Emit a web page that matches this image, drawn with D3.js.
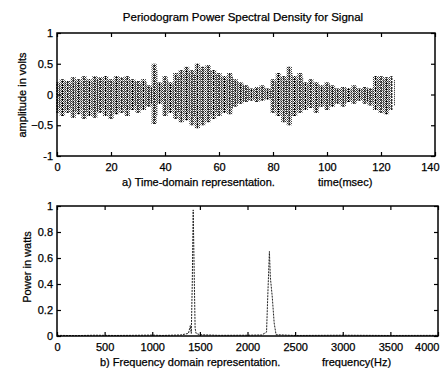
<!DOCTYPE html>
<html>
<head>
<meta charset="utf-8">
<script src="https://cdn.jsdelivr.net/npm/d3@7"></script>
<style>
  body { margin: 0; background: #fff; }
  svg { display: block; }
  text { font-family: "Liberation Sans", Arial, sans-serif; fill: #000; stroke: #000; stroke-width: 0.25; }
</style>
</head>
<body>
<svg id="chart" width="440" height="368"></svg>
<script>
// time-domain signal envelope, sampled every 2 ms (volts)
const timeMs = d3.range(0, 125, 2);
const ampHigh = [0.2, 0.25, 0.22, 0.28, 0.25, 0.3, 0.25, 0.3, 0.28, 0.3, 0.25, 0.3, 0.28, 0.3, 0.25, 0.22,
  0.25, 0.15, 0.5, 0.2, 0.3, 0.2, 0.35, 0.4, 0.45, 0.4, 0.5, 0.45, 0.48, 0.4, 0.35, 0.3,
  0.35, 0.25, 0.2, 0.15, 0.1, 0.12, 0.15, 0.1, 0.25, 0.35, 0.3, 0.45, 0.3, 0.35, 0.2, 0.25,
  0.2, 0.15, 0.2, 0.15, 0.1, 0.12, 0.1, 0.15, 0.1, 0.12, 0.1, 0.3, 0.3, 0.28, 0.3];
const ampLow = [-0.3, -0.35, -0.3, -0.38, -0.32, -0.4, -0.35, -0.38, -0.3, -0.35, -0.4, -0.32, -0.3, -0.35, -0.25, -0.3,
  -0.25, -0.2, -0.48, -0.15, -0.35, -0.3, -0.4, -0.45, -0.42, -0.5, -0.55, -0.5, -0.45, -0.4, -0.35, -0.3,
  -0.32, -0.2, -0.15, -0.12, -0.1, -0.12, -0.1, -0.08, -0.3, -0.35, -0.45, -0.5, -0.35, -0.3, -0.25, -0.22,
  -0.3, -0.2, -0.25, -0.2, -0.15, -0.2, -0.12, -0.15, -0.1, -0.15, -0.18, -0.25, -0.3, -0.32, -0.25];

// periodogram (watts)
const freqHz = [0, 200, 400, 600, 800, 1000, 1100, 1300, 1380, 1400, 1410, 1420, 1430, 1440, 1450, 1460, 1500,
  1700, 2000, 2150, 2200, 2210, 2230, 2240, 2260, 2280, 2300, 2500, 3000, 3500, 4000];
const powerW = [0.005, 0.003, 0.006, 0.004, 0.005, 0.007, 0.004, 0.008, 0.02, 0.08, 0.02, 0.4, 0.97, 0.5, 0.06, 0.02, 0.01,
  0.005, 0.006, 0.008, 0.03, 0.25, 0.65, 0.45, 0.3, 0.1, 0.01, 0.004, 0.006, 0.004, 0.005];

const timeTicks = [0, 20, 40, 60, 80, 100, 120, 140];
const ampTicks = [-1, -0.5, 0, 0.5, 1];
const freqTicks = [0, 500, 1000, 1500, 2000, 2500, 3000, 3500, 4000];
const powTicks = [0, 0.2, 0.4, 0.6, 0.8, 1];

const svg = d3.select('#chart');
const pageW = 440;

// checker of dots, looks like the scanned dense trace
const pat = svg.append('defs').append('pattern')
  .attr('id', 'scan')
  .attr('width', 2).attr('height', 2)
  .attr('patternUnits', 'userSpaceOnUse');
pat.append('rect').attr('width', 1).attr('height', 1).attr('fill', '#333');
pat.append('rect').attr('x', 1).attr('y', 1).attr('width', 1).attr('height', 1).attr('fill', '#777');

function box(g, w, h) {
  g.append('rect')
    .attr('width', w).attr('height', h)
    .attr('fill', 'none').attr('stroke', '#000').attr('stroke-width', 1.5);
}

// inward ticks on all four sides, matlab-ish
function frame(g, left, x, y, w, h, xt, yt, yfmt) {
  g.append('g').attr('transform', `translate(0,${h})`)
    .call(d3.axisBottom(x).tickValues(xt).tickSize(-4).tickPadding(7).tickFormat(d3.format('d')))
    .call(a => a.select('.domain').remove());
  g.append('g')
    .call(d3.axisTop(x).tickValues(xt).tickSize(-4).tickFormat(''))
    .call(a => a.select('.domain').remove());
  g.append('g')
    .call(d3.axisLeft(y).tickValues(yt).tickSize(-4).tickPadding(4).tickFormat(yfmt))
    .call(a => a.select('.domain').remove());
  g.append('g').attr('transform', `translate(${w},0)`)
    .call(d3.axisRight(y).tickValues(yt).tickSize(-4).tickFormat(''))
    .call(a => a.select('.domain').remove());
  g.selectAll('.tick text').attr('font-size', 11).attr('font-family', '"Liberation Sans", Arial, sans-serif')
    .attr('fill', '#000').attr('stroke', '#000').attr('stroke-width', 0.25);
  g.selectAll('.tick line').attr('stroke', '#000').attr('stroke-width', 1.2);
  // last x label sits on the page edge, keep it inside
  g.selectAll('.tick text').filter(d => d === xt[xt.length - 1])
    .attr('text-anchor', 'end').attr('dx', (pageW - 1 - left - x.range()[1]) + 'px');
  box(g, w, h);
}

const yfmt = d => d === 0 ? '0' : (Number.isInteger(d) ? d : d3.format('.1f')(d));

// ---- top: time domain ----
const topBox = { left: 57, top: 33, width: 378, height: 123 };
const gt = svg.append('g').attr('transform', `translate(${topBox.left},${topBox.top})`);
const xT = d3.scaleLinear().domain([0, 140]).range([0, topBox.width]);
const yT = d3.scaleLinear().domain([-1, 1]).range([topBox.height, 0]);
const sig = timeMs.map((t, i) => ({ t, hi: ampHigh[i], lo: ampLow[i] }));

gt.append('path')
  .datum(sig)
  .attr('fill', 'url(#scan)')
  .attr('d', d3.area().x(d => xT(d.t)).y0(d => yT(d.lo)).y1(d => yT(d.hi)).curve(d3.curveStep));

gt.selectAll('.sig')
  .data(sig).enter().append('line')
  .classed('sig', true)
  .attr('x1', d => xT(d.t)).attr('x2', d => xT(d.t))
  .attr('y1', d => yT(d.lo)).attr('y2', d => yT(d.hi))
  .attr('stroke', '#000').attr('stroke-width', 1.2)
  .attr('stroke-dasharray', '2,1');

gt.selectAll('.sig2')
  .data(sig).enter().append('line')
  .classed('sig2', true)
  .attr('x1', d => xT(d.t) + 2.7).attr('x2', d => xT(d.t) + 2.7)
  .attr('y1', d => yT(d.lo * 0.7)).attr('y2', d => yT(d.hi * 0.8))
  .attr('stroke', '#111').attr('stroke-width', 1)
  .attr('stroke-dasharray', '1,1');

frame(gt, topBox.left, xT, yT, topBox.width, topBox.height, timeTicks, ampTicks, yfmt);

// ---- bottom: frequency domain ----
const botBox = { left: 57, top: 206, width: 381, height: 130 };
const gb = svg.append('g').attr('transform', `translate(${botBox.left},${botBox.top})`);
const xF = d3.scaleLinear().domain([0, 4000]).range([0, botBox.width]);
const yF = d3.scaleLinear().domain([0, 1]).range([botBox.height, 0]);

gb.append('path')
  .datum(freqHz.map((f, i) => ({ f, p: powerW[i] })))
  .attr('fill', 'none')
  .attr('stroke', '#222').attr('stroke-width', 1)
  .attr('stroke-dasharray', '2,1')
  .attr('d', d3.line().x(d => xF(d.f)).y(d => yF(d.p)));

frame(gb, botBox.left, xF, yF, botBox.width, botBox.height, freqTicks, powTicks, yfmt);

// ---- text ----
svg.append('text').attr('x', 243).attr('y', 21).attr('text-anchor', 'middle')
  .attr('font-size', 11.5).text('Periodogram Power Spectral Density for Signal');

svg.append('text').attr('x', 122).attr('y', 186).attr('font-size', 11)
  .text('a) Time-domain representation.');
svg.append('text').attr('x', 318).attr('y', 186).attr('font-size', 11)
  .text('time(msec)');

svg.append('text').attr('x', 100).attr('y', 366).attr('font-size', 11)
  .text('b) Frequency domain representation.');
svg.append('text').attr('x', 322).attr('y', 366).attr('font-size', 11)
  .text('frequency(Hz)');

svg.append('text').attr('transform', 'translate(26,95) rotate(-90)')
  .attr('text-anchor', 'middle').attr('font-size', 11).text('amplitude in volts');
svg.append('text').attr('transform', 'translate(31,267) rotate(-90)')
  .attr('text-anchor', 'middle').attr('font-size', 11).text('Power in watts');
</script>
</body>
</html>
